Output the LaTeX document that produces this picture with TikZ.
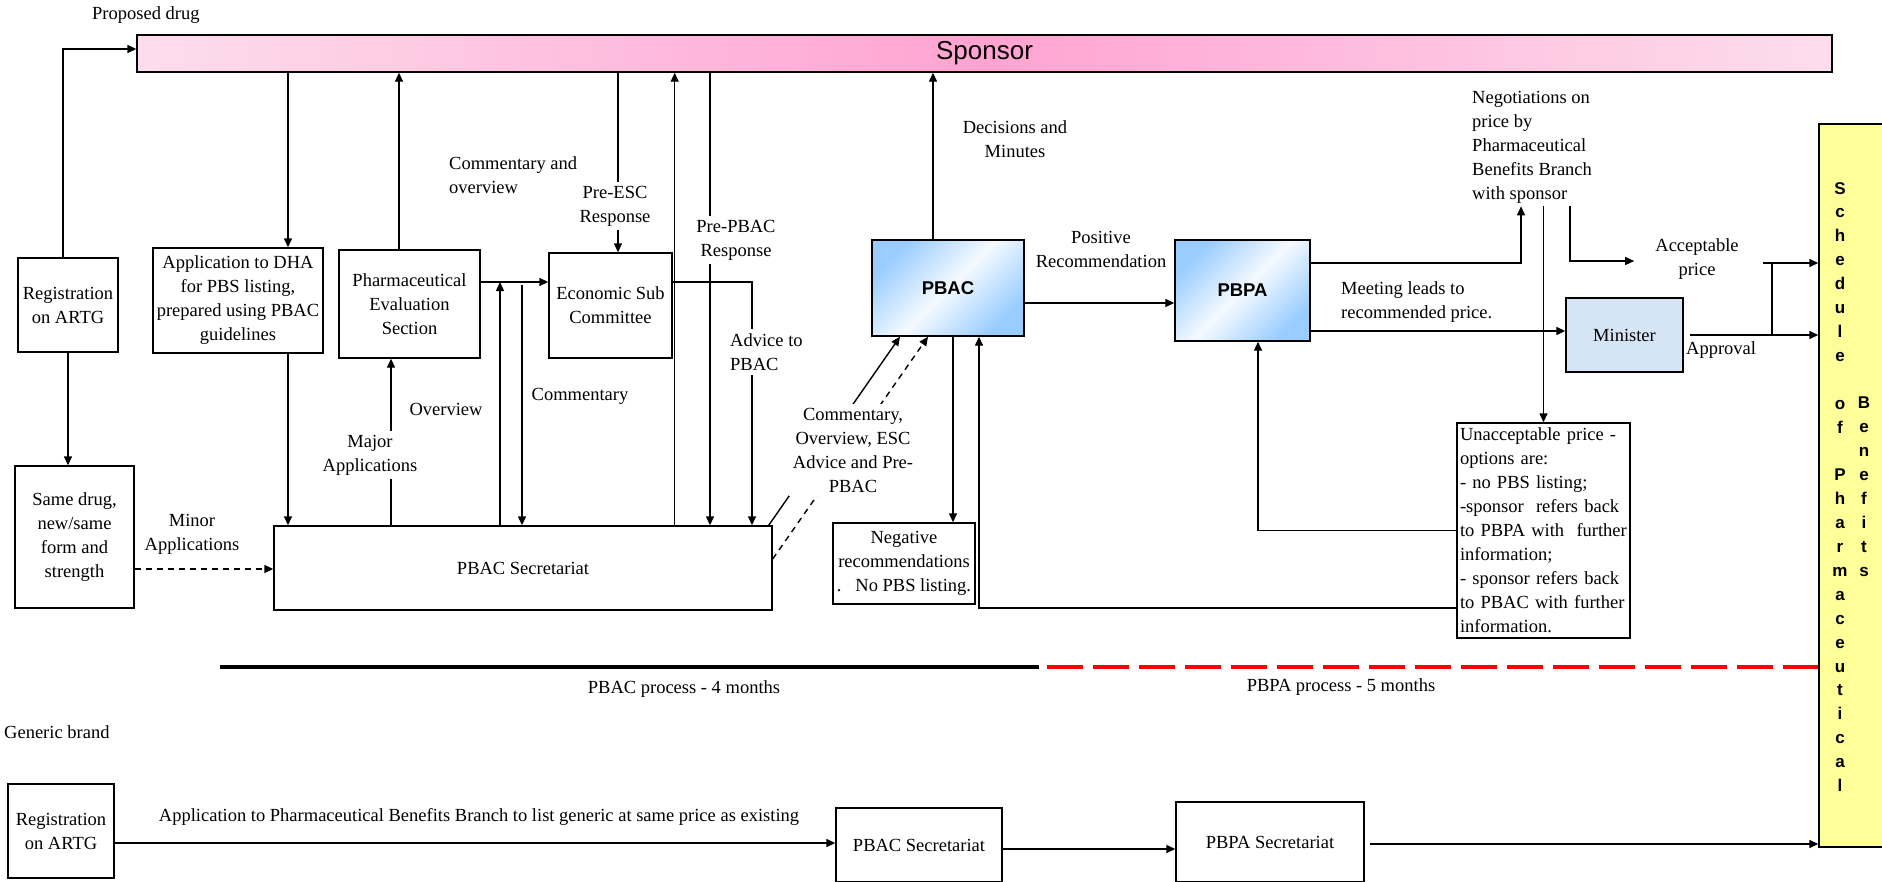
\documentclass[tikz,border=0pt]{standalone}
\usepackage{fontspec}
\setmainfont{Liberation Serif}
\newfontfamily\arialfont{Liberation Sans}
\usepackage{tikz}
\usetikzlibrary{arrows.meta}
\definecolor{sponpale}{HTML}{FDDDED}
\definecolor{sponpink}{HTML}{FFA3D2}
\definecolor{pbacblue}{HTML}{99CCFF}
\definecolor{minblue}{HTML}{D6E5F6}
\definecolor{schedyellow}{HTML}{FFFF99}
\def\lblfont{\fontsize{18.5}{24}\selectfont}
\def\pbfont{\arialfont\bfseries\fontsize{18.5}{22}\selectfont}
\def\schfont{\arialfont\bfseries\fontsize{17}{23.9}\selectfont}
\tikzset{
	box/.style={draw, line width=1.4pt, inner sep=2pt, align=center, font=\lblfont},
	lbl/.style={align=center, font=\lblfont, inner sep=1pt},
	gap/.style={lbl, fill=white, inner sep=4pt},
	ln/.style={line width=1.4pt},
	arr/.style={ln, -{Triangle[length=9pt, width=8pt]}},
	dsh/.style={dash pattern=on 6pt off 5pt}
}

\begin{document}
\begin{tikzpicture}[x=1pt, y=-1pt]
			%%%%% START %%%%%
			\useasboundingbox (0, 0) rectangle (1882, 881);
			\fill[white] (0, 0) rectangle (1882, 881);
			\clip (0, 0) rectangle (1882, 881);
			
			%%% boxes of the proposed drug
			\node[lbl, anchor=west] (drug) at (91, 15) {Proposed drug};
			\node[draw, line width=1.4pt, left color=sponpale, right color=sponpale, middle color=sponpink, minimum width=1695pt, minimum height=37pt, inner sep=0pt, font=\arialfont\fontsize{26}{30}\selectfont] (spon) at (984.5, 53.5) {Sponsor};
			
			\node[box, minimum width=100pt, minimum height=94pt] (reg) at (68, 305) {Registration\\on ARTG};
			\node[box, minimum width=119pt, minimum height=142pt] (same) at (74.5, 537) {Same drug,\\new/same\\form and\\strength};
			\node[box, minimum width=170pt, minimum height=105pt] (app) at (238, 300.5) {Application to DHA\\for PBS listing,\\prepared using PBAC\\guidelines};
			\node[box, minimum width=141pt, minimum height=108pt] (pes) at (409.5, 304) {Pharmaceutical\\Evaluation\\Section};
			\node[box, minimum width=123pt, minimum height=105pt] (esc) at (610.5, 305.5) {Economic Sub\\Committee};
			\node[box, minimum width=498pt, minimum height=84pt] (sec) at (523, 568) {PBAC Secretariat};
			
			\node[box, font=\pbfont, top color=pbacblue, bottom color=pbacblue, middle color=white!90!pbacblue, shading angle=45, minimum width=152pt, minimum height=96pt] (pbac) at (948, 288) {PBAC};
			\node[box, font=\pbfont, top color=pbacblue, bottom color=pbacblue, middle color=white!90!pbacblue, shading angle=45, minimum width=135pt, minimum height=101pt] (pbpa) at (1242.5, 290.5) {PBPA};
			\node[box, fill=minblue, minimum width=117pt, minimum height=74pt] (min) at (1624.5, 335) {Minister};
			\node[box, minimum width=142pt, minimum height=81pt] (neg) at (904, 563.5) {Negative\\recommendations\\.\ \ \ No PBS listing.};
			\node[box, align=left, text width=167pt, inner sep=3pt, minimum height=215pt] (unacc) at (1543.5, 530.5) {Unacceptable price -\\options are:\\- no PBS listing;\\-sponsor\ \ refers back\\to PBPA with\ \ further\\information;\\- sponsor refers back\\to PBAC with further\\information.};
			
			\node[draw, line width=1.4pt, fill=schedyellow, minimum width=81pt, minimum height=723pt, inner sep=0pt] (sched) at (1859.5, 485.5) {};
			\node[font=\schfont, align=center, inner sep=0pt, anchor=north] (schA) at (1840, 182) {S\\c\\h\\e\\d\\u\\l\\e\\\mbox{}\\o\\f\\\mbox{}\\P\\h\\a\\r\\m\\a\\c\\e\\u\\t\\i\\c\\a\\l};
			\node[font=\schfont, align=center, inner sep=0pt, anchor=north] (schB) at (1864, 397) {B\\e\\n\\e\\f\\i\\t\\s};
			
			%%% connectors
			\draw[arr] ([xshift=-5pt]reg.north) |- ([yshift=4.5pt]spon.west);
			\draw[arr] (reg.south) -- (reg.south |- same.north);
			\draw[arr, dsh] ([yshift=-32pt]same.east) -- ([yshift=-32pt]same.east -| sec.west);
			\node[lbl] (minor) at (192, 534) {Minor\\Applications};
			
			\coordinate (appx) at ([xshift=50pt]app.north);
			\draw[arr] (appx |- spon.south) -- (appx);
			\draw[arr] (appx |- app.south) -- (appx |- sec.north);
			
			\draw[arr] ([xshift=-10.5pt]pes.north) -- ([xshift=-10.5pt]pes.north |- spon.south);
			\node[lbl, anchor=west, align=left] (cmtov) at (448, 175) {Commentary and\\overview};
			
			\draw[arr] ([xshift=-132pt]sec.north) -- ([xshift=-132pt]sec.north |- pes.south);
			\node[gap] (major) at (370, 455) {Major\\Applications};
			\node[lbl] (ovw) at (446, 409) {Overview};
			
			\coordinate (escin) at ([yshift=22pt]pes.east);
			\draw[arr] (escin) -- (escin -| esc.west);
			\draw[arr] ([xshift=-23pt]sec.north) -- ([xshift=-23pt]sec.north |- escin);
			\draw[arr] ([xshift=-1pt, yshift=-3pt]sec.north |- escin) -- ([xshift=-1pt]sec.north);
			\node[lbl] (cmt) at (580, 396) {Commentary};
			
			\draw[arr] ([xshift=7.5pt]esc.north |- spon.south) -- ([xshift=7.5pt]esc.north);
			\node[gap] (preesc) at (615, 206) {Pre-ESC\\Response};
			
			\draw[arr] ([xshift=2pt]esc.east |- sec.north) -- ([xshift=2pt]esc.east |- spon.south);
			
			\draw[arr] ([xshift=187pt]sec.north |- spon.south) -- ([xshift=187pt]sec.north);
			\node[gap] (prepbac) at (736, 240) {Pre-PBAC\\Response};
			
			\draw[arr] ([yshift=23.5pt]esc.east) -| ([xshift=229pt]sec.north);
			\node[gap, anchor=west, align=left] (advice) at (726, 352) {Advice to\\PBAC};
			
			\draw[arr] ([xshift=-4pt]sec.north east) -- ([xshift=-48pt]pbac.south);
			\draw[arr, dsh] ([yshift=9pt]sec.east) -- ([xshift=-20pt]pbac.south);
			\node[gap] (cmtall) at (853, 450) {Commentary,\\Overview, ESC\\Advice and Pre-\\PBAC};
			
			\draw[arr] ([xshift=-15pt]pbac.north) -- ([xshift=-15pt]pbac.north |- spon.south);
			\node[lbl] (dec) at (1015, 139) {Decisions and\\Minutes};
			
			\draw[arr] ([yshift=-15pt]pbac.east) -- ([yshift=-15pt]pbac.east -| pbpa.west);
			\node[lbl] (pos) at (1101, 249) {Positive\\Recommendation};
			
			\draw[arr] ([xshift=5pt]pbac.south) -- ([xshift=5pt]pbac.south |- neg.north);
			
			\node[lbl, anchor=west, align=left, inner sep=3pt] (nego) at (1469, 147) {Negotiations on\\price by\\Pharmaceutical\\Benefits Branch\\with sponsor};
			\coordinate (negx) at (1521, 147);
			\coordinate (accx) at (1570, 147);
			\draw[arr] ([yshift=27.5pt]pbpa.east) -| (negx |- nego.south);
			\draw[arr] (unacc.north |- nego.south) -- (unacc.north);
			\node[lbl] (acc) at (1697, 259) {Acceptable\\price};
			\draw[arr] (accx |- nego.south) |- ([xshift=-20pt, yshift=-2pt]acc.west);
			
			\draw[arr] ([yshift=-40.5pt]pbpa.east) -- ([yshift=-40.5pt]pbpa.east -| min.west);
			\node[lbl, anchor=west, align=left] (meet) at (1340, 302) {Meeting leads to\\recommended price.};
			
			\draw[arr] ([xshift=6pt]min.east) -- (min.east -| sched.west);
			\node[lbl, anchor=west] (appr) at (1685, 350) {Approval};
			\coordinate (jx) at (1772, 263);
			\draw[ln] (jx) -- (jx |- min.east);
			\draw[arr] ([xshift=-9pt]jx) -- (jx -| sched.west);
			
			\draw[arr] (unacc.west) -| ([xshift=15.5pt]pbpa.south);
			\draw[arr] ([yshift=-77.5pt]unacc.west) -| ([xshift=31pt]pbac.south);
			
			%%% process lines
			\coordinate (pa) at (220, 667);
			\coordinate (pb) at (1039, 667);
			\coordinate (pc) at (1047, 667);
			\draw[line width=4pt] (pa) -- (pb);
			\draw[line width=4pt, red, dash pattern=on 36pt off 10pt] (pc) -- (pc -| sched.west);
			\node[lbl] (pbacproc) at (684, 689) {PBAC process - 4 months};
			\node[lbl] (pbpaproc) at (1341, 687) {PBPA process - 5 months};
			
			%%% generic brand
			\node[lbl, anchor=west] (gen) at (3, 732) {Generic brand};
			\node[box, minimum width=106pt, minimum height=94pt] (reg2) at (61, 831) {Registration\\on ARTG};
			\node[box, minimum width=166pt, minimum height=74pt] (sec2) at (919, 845) {PBAC Secretariat};
			\node[box, minimum width=188pt, minimum height=80pt] (pbpasec) at (1270, 842) {PBPA Secretariat};
			\draw[arr] ([yshift=-12pt]reg2.east) -- ([yshift=-12pt]reg2.east -| sec2.west);
			\node[lbl] (genapp) at (479, 817) {Application to Pharmaceutical Benefits Branch to list generic at same price as existing};
			\draw[arr] ([yshift=-4pt]sec2.east) -- ([yshift=-4pt]sec2.east -| pbpasec.west);
			\draw[arr] ([xshift=5pt, yshift=-2pt]pbpasec.east) -- ([yshift=-2pt]pbpasec.east -| sched.west);
			
			%%%%% END %%%%%
\end{tikzpicture}
\end{document}
